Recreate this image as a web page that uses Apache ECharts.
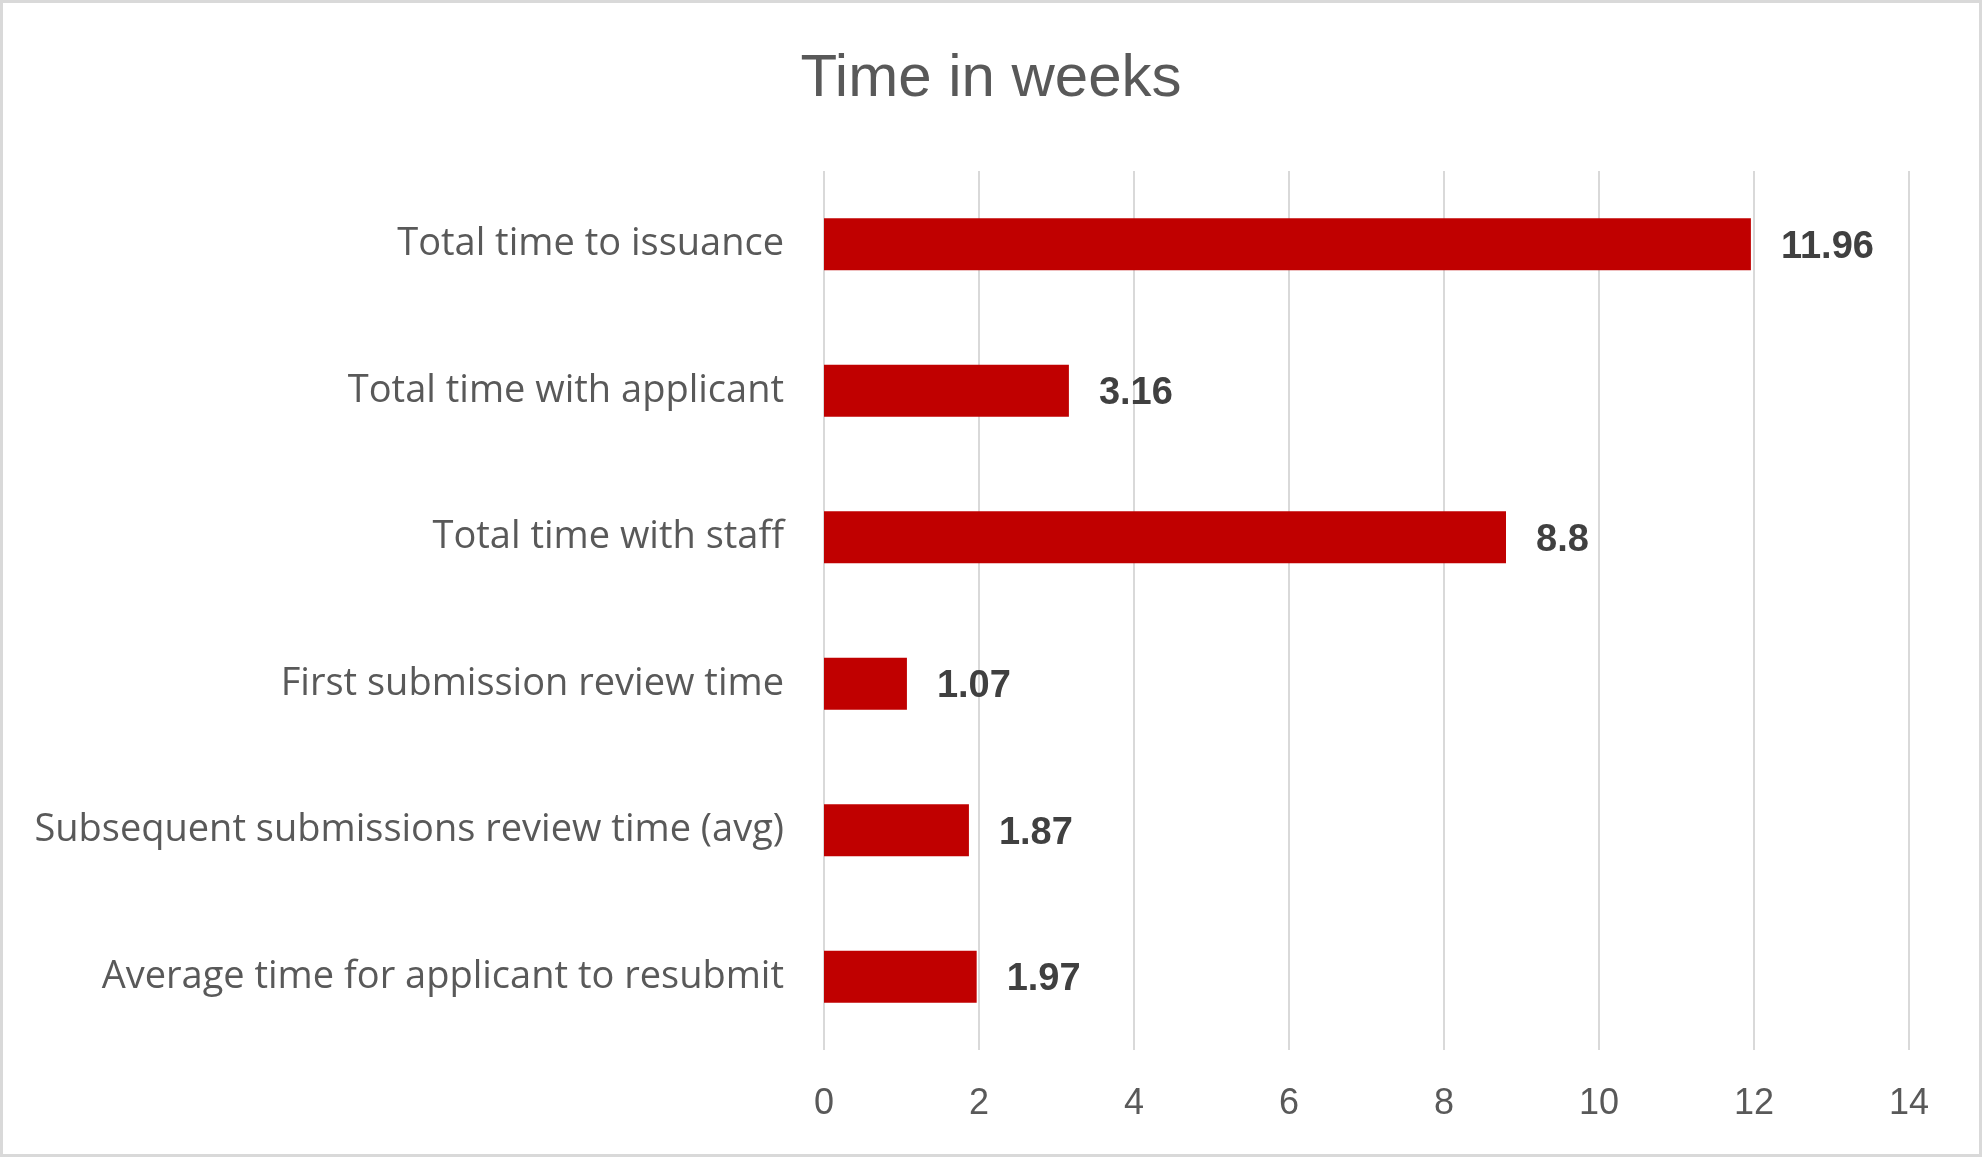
<!DOCTYPE html>
<html>
<head>
<meta charset="utf-8">
<script src="https://cdn.jsdelivr.net/npm/echarts@6/dist/echarts.min.js"></script>
<style>
html,body{margin:0;padding:0;background:#fff;}
#main{width:1982px;height:1157px;}
</style>
</head>
<body>
<div id="main"></div>
<script>
const titleText = 'Time in weeks';
const categories = [
  'Total time to issuance',
  'Total time with applicant',
  'Total time with staff',
  'First submission review time',
  'Subsequent submissions review time (avg)',
  'Average time for applicant to resubmit'
];
const weeks = [11.96, 3.16, 8.8, 1.07, 1.87, 1.97];
const axisMin = 0, axisMax = 14, axisStep = 2;

const chart = echarts.init(document.getElementById('main'));
chart.setOption({
  animation: false,
  backgroundColor: '#ffffff',
  title: {
    text: titleText,
    left: 'center',
    top: 44,
    textStyle: {fontFamily: 'Liberation Sans', fontSize: 60, fontWeight: 'normal', color: '#595959'}
  },
  graphic: [{
    type: 'rect', silent: true,
    shape: {x: 1.5, y: 1.5, width: 1979, height: 1154},
    style: {fill: 'none', stroke: '#d9d9d9', lineWidth: 3}
  }],
  grid: {left: 824, right: 73, top: 171, bottom: 107, containLabel: false},
  xAxis: {
    type: 'value', min: axisMin, max: axisMax, interval: axisStep,
    axisLine: {show: false}, axisTick: {show: false},
    splitLine: {show: true, lineStyle: {color: '#d9d9d9', width: 2}},
    axisLabel: {margin: 36, fontFamily: 'Liberation Sans', fontSize: 36, color: '#595959'}
  },
  yAxis: {
    type: 'category', data: categories, inverse: true,
    axisLine: {show: false}, axisTick: {show: false},
    axisLabel: {margin: 40, fontFamily: 'Open Sans', fontSize: 38, color: '#595959', padding: [5, 0, 0, 0]}
  },
  series: [{
    type: 'bar', data: weeks, barWidth: '35.5%',
    itemStyle: {color: '#C00000'},
    label: {show: true, position: 'right', distance: 30, offset: [0, 3],
      fontFamily: 'Liberation Sans', fontSize: 38, fontWeight: 'bold', color: '#404040'}
  }]
});
</script>
</body>
</html>
